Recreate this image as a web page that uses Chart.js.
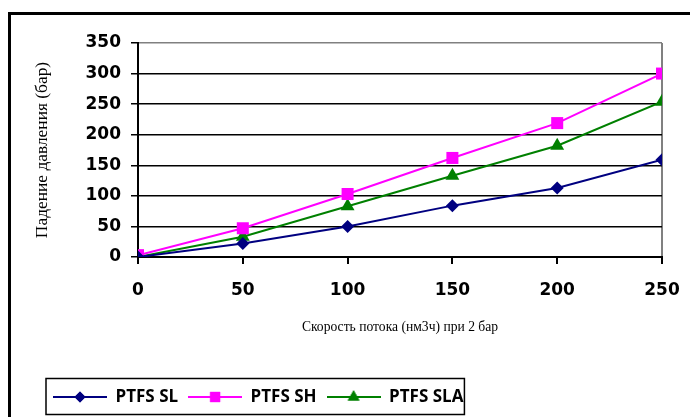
<!DOCTYPE html>
<html>
<head>
<meta charset="utf-8">
<script src="https://cdn.jsdelivr.net/npm/chart.js@4/dist/chart.umd.min.js"></script>
<style>
  html, body { margin: 0; padding: 0; background: #fff; }
  #wrap { width: 690px; height: 417px; position: relative; }
</style>
</head>
<body>
<div id="wrap"><canvas id="myChart"></canvas></div>
<script>
// flow rate (нм3ч) at 2 bar
const flowRates = [0, 50, 100, 150, 200, 250];
// pressure drop, bar
const ptfsSL  = [0, 22, 50, 84, 113, 159];
const ptfsSH  = [3, 47, 103, 162, 219, 300];
const ptfsSLA = [0, 33, 83, 133, 182, 254];
const seriesNames = ['PTFS SL', 'PTFS SH', 'PTFS SLA'];
const yTicks = [0, 50, 100, 150, 200, 250, 300, 350];

const colors = ['#000080', '#ff00ff', '#008000'];
const styles = ['rectRot', 'rect', 'triangle'];
const radii = [6.5, 8.5, 8];

function toPoints(vals) {
  return vals.map((v, i) => ({x: flowRates[i], y: v}));
}

// little line+marker icons for the legend
function legendIcon(i) {
  const c = document.createElement('canvas');
  c.width = 54; c.height = 18;
  const g = c.getContext('2d');
  g.strokeStyle = colors[i];
  g.lineWidth = 2;
  g.beginPath(); g.moveTo(0, 9); g.lineTo(54, 9); g.stroke();
  g.fillStyle = colors[i];
  Chart.helpers.drawPoint(g, {pointStyle: styles[i], radius: radii[i] * 0.85, borderWidth: 0}, 27, 9);
  g.fill();
  return c;
}

const frame = {
  id: 'frame',
  afterDraw(chart) {
    const c = chart.ctx;
    c.save();
    c.strokeStyle = '#000';
    c.lineWidth = 3;
    c.beginPath();
    c.moveTo(9.5, 417); c.lineTo(9.5, 13.5); c.lineTo(690, 13.5);
    c.stroke();
    // border round the legend
    const hb = chart.legend.legendHitBoxes;
    if (hb && hb.length) {
      const last = hb[hb.length - 1];
      c.lineWidth = 1.5;
      c.strokeRect(46, 378.5, last.left + last.width + 1 - 46, 36);
    }
    c.restore();
  }
};

const ctx = document.getElementById('myChart');
const icons = [0, 1, 2].map(legendIcon);

new Chart(ctx, {
  type: 'line',
  data: {
    datasets: [ptfsSL, ptfsSH, ptfsSLA].map((vals, i) => ({
      label: seriesNames[i],
      data: toPoints(vals),
      borderColor: colors[i],
      backgroundColor: colors[i],
      borderWidth: 2,
      pointStyle: styles[i],
      pointRadius: radii[i],
      pointBorderWidth: 0,
      tension: 0
    }))
  },
  options: {
    responsive: true,
    maintainAspectRatio: false,
    animation: false,
    layout: { padding: { left: 43, top: 43, right: 28, bottom: 1.5 } },
    plugins: {
      tooltip: { enabled: false },
      legend: {
        position: 'bottom',
        align: 'start',
        labels: {
          usePointStyle: true,
          pointStyleWidth: 54,
          padding: 10,
          color: '#000',
          font: { family: '"Open Sans"', weight: 'bold', size: 17 },
          generateLabels(chart) {
            const items = Chart.defaults.plugins.legend.labels.generateLabels(chart);
            items.forEach((it, i) => { it.pointStyle = icons[i]; });
            return items;
          }
        }
      }
    },
    scales: {
      x: {
        type: 'linear',
        min: 0, max: 250,
        ticks: {
          stepSize: 50, padding: 16, color: '#000', maxRotation: 0,
          font: { family: '"DejaVu Sans"', weight: 'bold', size: 17 }
        },
        grid: {
          color: c => c.tick && c.tick.value === 250 ? '#808080' : 'rgba(0,0,0,0)',
          tickColor: '#000', tickLength: 7, lineWidth: 2
        },
        border: { color: '#000', width: 2 },
        title: {
          display: true,
          text: 'Скорость потока (нм3ч) при 2 бар',
          color: '#000',
          font: { family: '"Liberation Serif"', size: 13.6 },
          padding: { top: 0, bottom: 43 }
        },
        afterFit(s) { s.height = 121.5; s.paddingLeft = 0; s.paddingRight = 0; }
      },
      y: {
        min: 0, max: 350,
        afterBuildTicks(s) { s.ticks = yTicks.map(v => ({value: v})); },
        ticks: {
          padding: 10, color: '#000',
          font: { family: '"DejaVu Sans"', weight: 'bold', size: 17 }
        },
        grid: {
          color: c => c.tick && c.tick.value === 350 ? '#808080' : '#000',
          tickColor: '#000', tickLength: 7, lineWidth: 1.5
        },
        border: { color: '#000', width: 2 },
        title: {
          display: true,
          text: 'Падение давления (бар)',
          color: '#000',
          font: { family: '"Liberation Serif"', size: 17.4 },
          padding: { top: -11, bottom: 0 }
        },
        afterFit(s) { s.width = 95; }
      }
    }
  },
  plugins: [frame]
});
</script>
</body>
</html>
